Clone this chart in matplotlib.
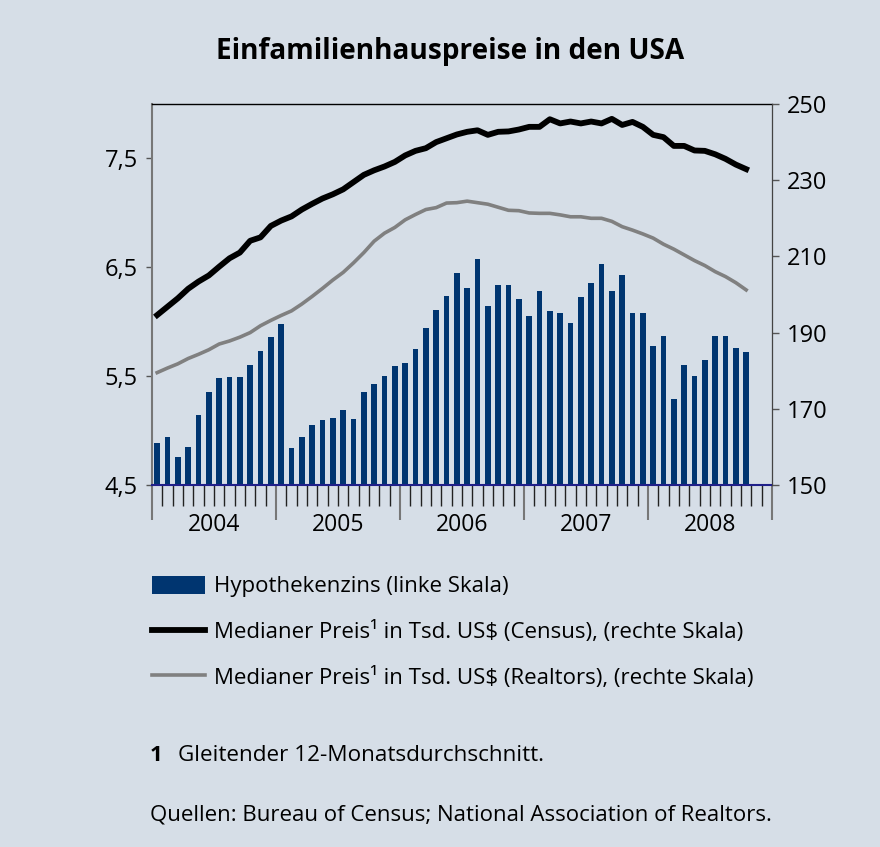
import matplotlib
matplotlib.use("Agg")
import matplotlib.pyplot as plt
import numpy as np
from matplotlib.ticker import FuncFormatter

plt.rcParams['font.family'] = ['Open Sans', 'DejaVu Sans']

years = ['2004', '2005', '2006', '2007', '2008']

# Hypothekenzins in %, monthly Jan 2004 - Oct 2008 (left scale)
zins = [4.89, 4.94, 4.76, 4.85, 5.14, 5.35, 5.48, 5.49, 5.49, 5.60, 5.73, 5.86,
        5.98, 4.84, 4.94, 5.05, 5.10, 5.12, 5.19, 5.11, 5.35, 5.43, 5.50, 5.59,
        5.62, 5.75, 5.94, 6.11, 6.24, 6.45, 6.31, 6.58, 6.14, 6.34, 6.34, 6.21,
        6.05, 6.28, 6.10, 6.08, 5.99, 6.23, 6.36, 6.53, 6.28, 6.43, 6.08, 6.08,
        5.78, 5.87, 5.29, 5.60, 5.50, 5.65, 5.87, 5.87, 5.76, 5.72]

# median price, thousand US$ (right scale)
census = [194.6, 196.8, 199.0, 201.5, 203.4, 205.0, 207.3, 209.5, 211.0, 214.1, 215.0, 218.0,
          219.4, 220.5, 222.3, 223.8, 225.2, 226.3, 227.6, 229.5, 231.4, 232.6, 233.6, 234.8,
          236.5, 237.7, 238.4, 240.0, 241.0, 242.0, 242.7, 243.1, 241.9, 242.7, 242.8, 243.3,
          244.0, 244.0, 246.0, 244.9, 245.4, 244.9, 245.4, 244.9, 246.1, 244.5, 245.3, 244.0,
          241.9, 241.3, 239.0, 239.0, 237.8, 237.7, 236.8, 235.6, 234.1, 232.9]

realtors = [179.5, 180.7, 181.8, 183.2, 184.3, 185.5, 187.0, 187.8, 188.8, 190.0, 191.8, 193.2,
            194.5, 195.7, 197.5, 199.5, 201.6, 203.8, 205.8, 208.3, 211.0, 214.0, 216.1, 217.6,
            219.6, 221.0, 222.3, 222.8, 224.0, 224.1, 224.5, 224.1, 223.7, 222.9, 222.1, 222.0,
            221.4, 221.3, 221.3, 220.9, 220.4, 220.4, 220.0, 220.0, 219.2, 217.8, 216.9, 215.9,
            214.8, 213.2, 211.9, 210.4, 208.9, 207.6, 206.0, 204.7, 203.1, 201.2]

labels = ['Hypothekenzins (linke Skala)',
          'Medianer Preis\u00b9 in Tsd. US$ (Census), (rechte Skala)',
          'Medianer Preis\u00b9 in Tsd. US$ (Realtors), (rechte Skala)']

bg = '#d6dee7'
navy = '#003570'
months = np.arange(len(zins))

fig = plt.figure(figsize=(8.8, 8.47), dpi=100, facecolor=bg)
ax = fig.add_axes([152/880, 1 - 485/847, 620/880, 381/847])
ax.set_facecolor(bg)

bars = ax.bar(months, zins, width=0.55, color=navy, zorder=2)
ax.set_xlim(-0.5, 59.5)
ax.set_ylim(4.5, 8.0)
ax.set_yticks([4.5, 5.5, 6.5, 7.5])
ax.yaxis.set_major_formatter(FuncFormatter(lambda v, p: f'{v:.1f}'.replace('.', ',')))
ax.tick_params(axis='y', length=4, width=1, color='#555', labelsize=17, pad=6)

ax.set_xticks(np.arange(-0.5, 60, 12))
ax.set_xticks(np.arange(-0.5, 60, 1), minor=True)
ax.set_xticklabels([])
ax.tick_params(axis='x', which='major', length=25, width=1.5, color='#777')
ax.tick_params(axis='x', which='minor', length=15, width=1, color='#222')
for i, y in enumerate(years):
    ax.text(5.5 + 12 * i, -0.105, y, transform=ax.get_xaxis_transform(),
            ha='center', va='center', fontsize=16.5)

ax.spines['left'].set_color('#777')
ax.spines['left'].set_linewidth(1.5)
ax.spines['bottom'].set_color('#20208a')
ax.spines['bottom'].set_linewidth(1.5)
ax.spines['bottom'].set_zorder(3)
ax.spines['top'].set_linewidth(1)

ax2 = ax.twinx()
l2, = ax2.plot(months, realtors, color='#808080', lw=2.6)
l1, = ax2.plot(months, census, color='black', lw=4.2)
ax2.set_ylim(150, 250)
ax2.set_yticks(range(150, 251, 20))
ax2.tick_params(axis='y', length=5, width=1, color='#555', labelsize=17, pad=6)
for s in ['top', 'left', 'bottom']:
    ax2.spines[s].set_visible(False)
ax2.spines['right'].set_color('#444')

fig.text(0.511, 1 - 52/847, 'Einfamilienhauspreise in den USA', ha='center', va='center',
         fontsize=20.2, weight='bold')

fig.legend([bars, l1, l2], labels, loc='upper left', bbox_to_anchor=(143/880, 1 - 567/847),
           frameon=False, fontsize=16, handlelength=2.4, handleheight=0.85,
           handletextpad=0.38, labelspacing=1.06, borderaxespad=0)

fig.text(150/880, 1 - 755/847, '1', fontsize=16, weight='bold', va='center')
fig.text(178/880, 1 - 755/847, 'Gleitender 12-Monatsdurchschnitt.', fontsize=16.2, va='center')
fig.text(150/880, 1 - 815/847, 'Quellen: Bureau of Census; National Association of Realtors.',
         fontsize=16, va='center')

fig.savefig('out.png', dpi=100, facecolor=bg)
